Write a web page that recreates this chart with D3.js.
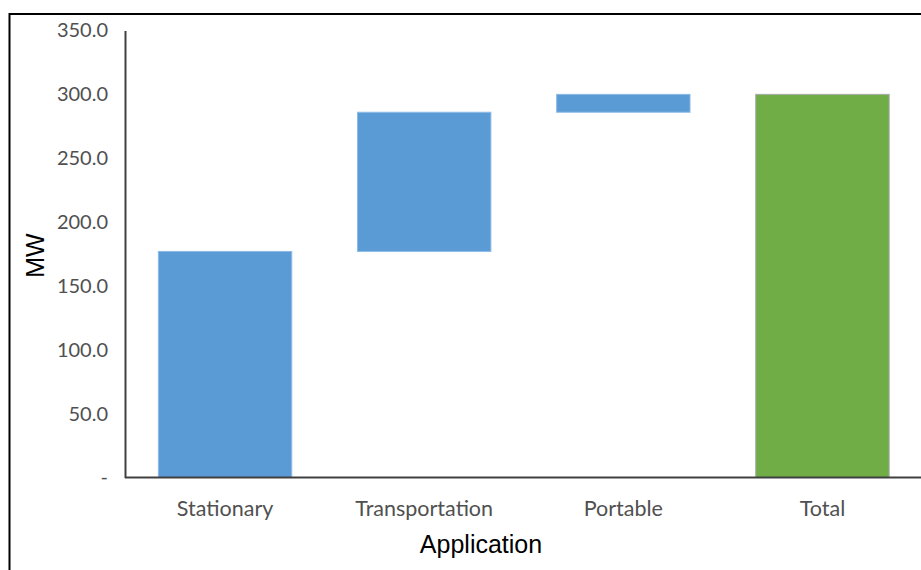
<!DOCTYPE html>
<html>
<head>
<meta charset="utf-8">
<script src="https://cdn.jsdelivr.net/npm/d3@7"></script>
<style>
  html, body { margin: 0; padding: 0; background: #fff; }
  svg { display: block; }
</style>
</head>
<body>
<svg id="chart" width="921" height="570"></svg>
<script>
// Installed capacity by application (MW), stacked as a waterfall
const categories = ["Stationary", "Transportation", "Portable", "Total"];
const increments = [177, 109, 14];
const yTicks = [0, 50, 100, 150, 200, 250, 300, 350];

const svg = d3.select("#chart");

// Frame around the chart area
svg.append("rect")
  .attr("x", 9.5).attr("y", 14)
  .attr("width", 1000).attr("height", 1000)
  .attr("fill", "#fff")
  .attr("stroke", "#000")
  .attr("stroke-width", 2);

const x = d3.scaleBand()
  .domain(categories)
  .range([125.5, 922])
  .paddingInner(0.33)
  .paddingOuter(0.165);

const y = d3.scaleLinear()
  .domain([0, 350])
  .range([477.5, 30.5]);

// Build floating segments: each step starts where the previous one ended
let running = 0;
const segments = increments.map((v, i) => {
  const seg = { cat: categories[i], start: running, end: running + v, total: false };
  running += v;
  return seg;
});
segments.push({ cat: categories[categories.length - 1], start: 0, end: running, total: true });

svg.append("g")
  .selectAll("rect")
  .data(segments)
  .join("rect")
  .attr("x", d => x(d.cat))
  .attr("width", x.bandwidth())
  .attr("y", d => y(Math.max(d.start, d.end)))
  .attr("height", d => Math.abs(y(d.start) - y(d.end)))
  .attr("fill", d => d.total ? "#70AD47" : "#5B9BD5")
  .attr("stroke", d => d.total ? "#A9A9A9" : "#8DBBE6")
  .attr("stroke-width", 1);

// Y axis
const yAxis = d3.axisLeft(y)
  .tickValues(yTicks)
  .tickSize(0)
  .tickPadding(17)
  .tickFormat(d => d === 0 ? "-" : d3.format(".1f")(d));

const gy = svg.append("g")
  .attr("transform", "translate(125,0)")
  .call(yAxis);
gy.select(".domain").attr("stroke", "#404040").attr("stroke-width", 2);
gy.selectAll("text")
  .attr("fill", "#505050")
  .style("font-family", "Lato, 'Open Sans', sans-serif")
  .style("font-size", "20px");

// X axis
const xAxis = d3.axisBottom(x).tickSize(0).tickPadding(23);
const gx = svg.append("g")
  .attr("transform", "translate(0,477.5)")
  .call(xAxis);
gx.select(".domain")
  .attr("d", "M125,0H921")
  .attr("stroke", "#404040").attr("stroke-width", 2);
gx.selectAll("text")
  .attr("fill", "#505050")
  .style("font-family", "Lato, 'Open Sans', sans-serif")
  .style("font-size", "21.5px");

// Axis titles
svg.append("text")
  .attr("x", 481).attr("y", 553)
  .attr("text-anchor", "middle")
  .style("font-family", "'Liberation Sans', Arial, sans-serif")
  .style("font-size", "25px")
  .attr("fill", "#000")
  .text("Application");

svg.append("text")
  .attr("transform", "translate(44,255.5) rotate(-90)")
  .attr("text-anchor", "middle")
  .style("font-family", "'Liberation Sans', Arial, sans-serif")
  .style("font-size", "25px")
  .attr("fill", "#000")
  .text("MW");
</script>
</body>
</html>
